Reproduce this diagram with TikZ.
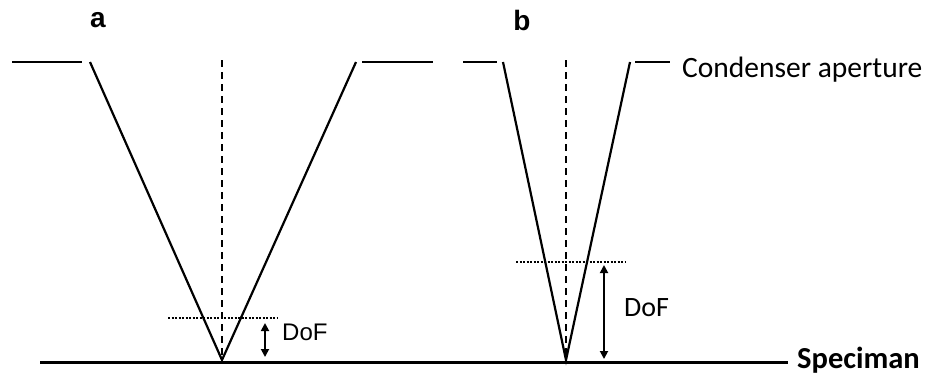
\documentclass[tikz,border=0pt]{standalone}
\usepackage{fontspec}
\setmainfont{Carlito}
\newfontfamily\arialfont{Liberation Sans}
\usetikzlibrary{arrows.meta}
\begin{document}
\begin{tikzpicture}[x=1pt,y=-1pt,
  ray/.style={line width=2.2pt},
  axis/.style={line width=2pt,dash pattern=on 7pt off 5pt},
  focus/.style={line width=1.6pt,dash pattern=on 2pt off 1.5pt},
  dofarrow/.style={line width=1.8pt,{Triangle[length=8pt,width=8pt]}-{Triangle[length=8pt,width=8pt]}},
  lbl/.style={inner sep=0pt,anchor=west}]
\useasboundingbox (0,0) rectangle (929,376);
% panel a
\coordinate (a1) at (12,62); \coordinate (a2) at (82,62);
\coordinate (a3) at (90,62); \coordinate (af) at (222,360);
\coordinate (a4) at (356,62); \coordinate (a5) at (362,62);
\coordinate (a6) at (433,62);
\coordinate (ax) at (222,60);
\draw[ray] (a1) -- (a2);
\draw[ray] (a3) -- (af) -- (a4);
\draw[ray] (a5) -- (a6);
\draw[axis] (ax) -- (af);
\coordinate (ad1) at (168,318); \coordinate (ad2) at (278,318);
\draw[focus] (ad1) -- (ad2);
\coordinate (aa1) at (265,323); \coordinate (aa2) at (265,357);
\draw[dofarrow] (aa1) -- (aa2);
\node[lbl,font=\arialfont\fontsize{24}{24}\selectfont] (adof) at (282,332) {DoF};
\node[font=\arialfont\bfseries\fontsize{28}{28}\selectfont] (la) at (98,20) {a};
% panel b
\coordinate (b1) at (463,62); \coordinate (b2) at (497,62);
\coordinate (b3) at (503,62); \coordinate (bf) at (566,360);
\coordinate (b4) at (630,62); \coordinate (b5) at (635,62);
\coordinate (b6) at (670,62);
\coordinate (bx) at (566,60);
\draw[ray] (b1) -- (b2);
\draw[ray] (b3) -- (bf) -- (b4);
\draw[ray] (b5) -- (b6);
\draw[axis] (bx) -- (bf);
\coordinate (bd1) at (516,262); \coordinate (bd2) at (626,262);
\draw[focus] (bd1) -- (bd2);
\coordinate (ba1) at (604,265); \coordinate (ba2) at (604,359);
\draw[dofarrow] (ba1) -- (ba2);
\node[lbl,font=\fontsize{28}{28}\selectfont] (bdof) at (624,308) {DoF};
\node[font=\arialfont\bfseries\fontsize{28}{28}\selectfont] (lb) at (522,20) {b};
\node[lbl,font=\fontsize{29.5}{29.5}\selectfont] (cond) at (682,70) {Condenser aperture};
% specimen
\node[inner sep=0pt,anchor=base west,font=\bfseries\fontsize{30.5}{30.5}\selectfont] (spec) at (797,368) {Speciman};
\coordinate (s0) at (40,362);
\coordinate (s1) at (788,362);
\draw[line width=3pt] (s0) -- (s1);
\end{tikzpicture}
\end{document}
